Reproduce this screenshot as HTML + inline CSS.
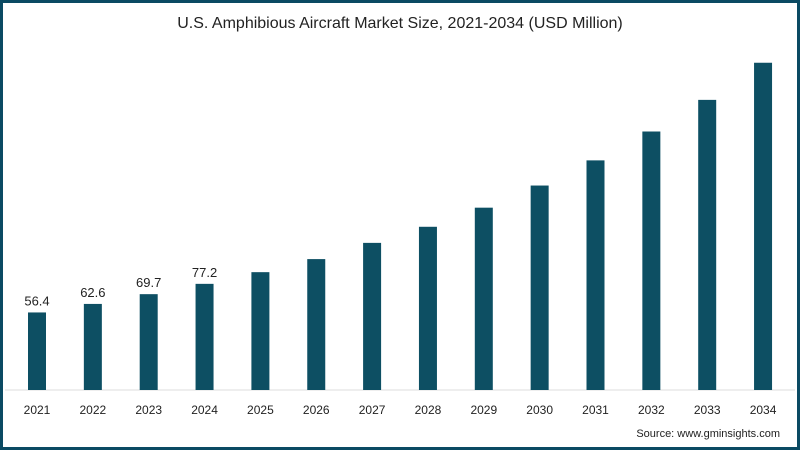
<!DOCTYPE html>
<html><head><meta charset="utf-8"><style>
body{margin:0;background:#fff;font-family:"Liberation Sans",sans-serif}
#wrap{position:relative;width:800px;height:450px;box-sizing:border-box;border:3px solid #0b4a63;overflow:hidden}
</style></head><body>
<div id="wrap">
<svg id="chart" width="794" height="444"></svg>
</div>
<script>
const categories=["2021","2022","2023","2024","2025","2026","2027","2028","2029","2030","2031","2032","2033","2034"];
const values=[56.4,62.6,69.7,77.2,85.7,95.2,107,118.7,132.6,148.7,167,188,211,238];
const labels=["56.4","62.6","69.7","77.2","","","","","","","","","",""];
const ns="http://www.w3.org/2000/svg";
const svg=document.getElementById('chart');
const ox=-3,oy=-3;
const base=390,ppu=1.375,x0=37,step=55.85,bw=18;
function xs(i){return x0+i*step+ox;}
function ys(v){return base-v*ppu+oy;}
function mk(t,a,txt){const e=document.createElementNS(ns,t);for(const k in a)e.setAttribute(k,a[k]);if(txt!==undefined)e.textContent=txt;svg.appendChild(e);return e;}
let t=mk('text',{x:400+ox,y:28+oy,'text-anchor':'middle','font-size':16,fill:'#222'},'U.S. Amphibious Aircraft Market Size, 2021-2034 (USD Million)');


let ax=mk('line',{x1:5+ox,x2:795+ox,y1:base+oy,y2:base+oy,stroke:'#ddd','stroke-width':1});


categories.forEach((c,i)=>{
 const r=mk('rect',{x:xs(i)-bw/2,y:ys(values[i]),width:bw,height:values[i]*ppu,fill:'#0d4f63'});
 
 
 const l=mk('text',{x:xs(i),y:414+oy,'text-anchor':'middle','font-size':12,fill:'#222'},c);
 
 
 if(labels[i]){
  const v=mk('text',{x:xs(i),y:ys(values[i])-7,'text-anchor':'middle','font-size':13,fill:'#222'},labels[i]);
  
  
 }
});
let s=mk('text',{x:780+ox,y:437+oy,'text-anchor':'end','font-size':11,fill:'#222'},'Source: www.gminsights.com');


</script>
</body></html>
